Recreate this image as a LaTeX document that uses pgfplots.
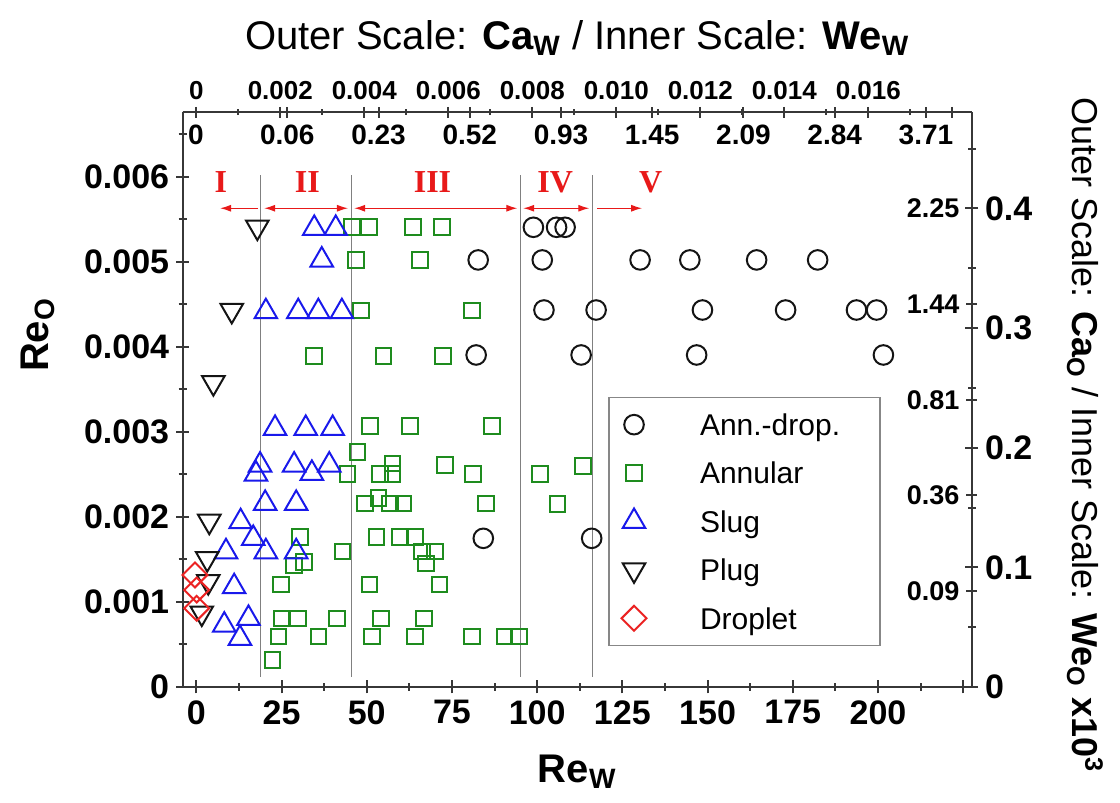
\documentclass[border=0pt]{standalone}
\usepackage{pgfplots}
\pgfplotsset{compat=1.18}
\usepackage{fontspec}
\setmainfont{Liberation Sans}
\newfontfamily\romanfont{Liberation Serif}
\usetikzlibrary{arrows.meta}

\definecolor{axiscol}{RGB}{55,55,55}
\definecolor{anncol}{RGB}{20,20,20}
\definecolor{annularcol}{RGB}{30,140,30}
\definecolor{slugcol}{RGB}{25,25,235}
\definecolor{plugcol}{RGB}{20,20,20}
\definecolor{dropcol}{RGB}{235,35,35}
\definecolor{regioncol}{RGB}{232,25,25}
\definecolor{bordercol}{RGB}{135,135,135}

\pgfplotsset{
  frame/.style={at={(0,0)}, anchor=south west,
    width=394.5pt, height=287.35pt, scale only axis, scaled ticks=false,
    tick style={line width=1pt, axiscol}, tick align=outside},
  plainlines/.style={
    axis line style={line width=1pt, axiscol},
    every outer x axis line/.append style={-},
    every outer y axis line/.append style={-},
    every inner x axis line/.append style={-},
    every inner y axis line/.append style={-}},
}

\begin{document}
\begin{tikzpicture}
% ---- main axis: Re_w vs Re_o with the flow-pattern data ----
\begin{axis}[frame,
  xmin=-4, xmax=227.5, ymin=0, ymax=0.006761,
  axis x line=bottom, axis y line=left, plainlines,
  xtick={0,25,50,75,100,125,150,175,200,225},
  xticklabels={0,25,50,75,100,125,150,175,200,{}},
  minor xtick={12.5,37.5,62.5,87.5,112.5,137.5,162.5,187.5,212.5},
  ytick={0,0.001,0.002,0.003,0.004,0.005,0.006},
  yticklabels={0,0.001,0.002,0.003,0.004,0.005,0.006},
  minor ytick={0.0005,0.0015,0.0025,0.0035,0.0045,0.0055,0.0065},
  major tick length=6.5pt, minor tick length=4pt,
  tick label style={font=\fontsize{17}{20}\selectfont\bfseries},
  clip=false,
  legend cell align=left,
  legend style={at={(0.5394,0.5051)}, anchor=north west,
    draw=bordercol, line width=0.75pt, fill=white,
    inner xsep=0pt, inner ysep=1.5pt, row sep=0pt,
    font=\fontsize{15}{18}\selectfont,
    nodes={draw=none, fill=none, inner sep=0pt, text depth=0pt}},
  legend image code/.code={%
    \draw[mark repeat=2,mark phase=2,#1] plot coordinates {(0pt,0pt) (12.5pt,0pt) (25pt,0pt)};
    \path[draw=none, fill=none] (0pt,-12.1pt) rectangle (45.5pt,12.1pt);},
]
% Annular-droplet
\addplot[only marks, mark=o, mark size=4.9pt, mark options={draw=anncol, line width=1pt}]
coordinates {
(98.9,0.005408) (105.7,0.005408) (108.2,0.005408)
(82.7,0.005024) (101.5,0.005024) (130.2,0.005024) (144.8,0.005024) (164.4,0.005024) (182.3,0.005024)
(102.0,0.004435) (117.3,0.004435) (148.5,0.004435) (172.9,0.004435) (193.7,0.004435) (199.6,0.004435)
(82.1,0.003906) (112.9,0.003906) (146.8,0.003906) (201.6,0.003906)
(84.2,0.001749) (116.0,0.001749)
};
% Annular
\addplot[only marks, mark=square, mark size=3.9pt, mark options={draw=annularcol, line width=1pt}]
coordinates {
(45.6,0.005408) (50.7,0.005408) (63.5,0.005408) (72.0,0.005408)
(46.8,0.005024) (65.6,0.005024)
(48.3,0.004427) (80.8,0.004427)
(34.5,0.003894) (54.9,0.003894) (72.3,0.003894)
(51.0,0.003071) (62.7,0.003071) (86.8,0.003071)
(47.3,0.002768)
(57.6,0.002631) (73.0,0.002612)
(44.4,0.002506) (53.9,0.002506) (57.6,0.002506) (81.1,0.002506) (100.9,0.002506) (113.5,0.002600)
(49.5,0.002161) (53.4,0.002220) (56.8,0.002161) (60.8,0.002161) (85.0,0.002161) (106.0,0.002153)
(30.4,0.001768) (52.9,0.001768) (59.8,0.001768) (64.2,0.001768)
(42.9,0.001592) (66.3,0.001592) (70.0,0.001592)
(28.7,0.001430) (31.6,0.001470) (67.3,0.001455)
(24.8,0.001208) (50.8,0.001208) (71.3,0.001208)
(25.0,0.000808) (29.9,0.000808) (41.2,0.000808) (54.1,0.000808) (66.8,0.000808)
(24.1,0.000592) (35.8,0.000592) (51.5,0.000592) (64.2,0.000592) (80.8,0.000592) (90.4,0.000592) (94.7,0.000592)
(22.4,0.000318)
};
% Slug
\addplot[only marks, mark=triangle, mark size=6.5pt, mark options={draw=slugcol, line width=1pt}]
coordinates {
(34.6,0.005395) (40.9,0.005395)
(36.8,0.005023)
(20.4,0.004415) (29.9,0.004415) (35.8,0.004415) (42.7,0.004415)
(23.1,0.003042) (32.1,0.003042) (40.0,0.003042)
(18.7,0.002611) (28.7,0.002611) (39.0,0.002611)
(17.5,0.002505) (33.9,0.002513)
(20.2,0.002160) (29.3,0.002160)
(13.0,0.001944)
(16.7,0.001748)
(8.7,0.001591) (20.4,0.001591) (29.3,0.001591)
(11.1,0.001180)
(15.3,0.000807)
(8.2,0.000728)
(12.8,0.000572)
};
% Plug
\addplot[only marks, mark=triangle, mark size=6.5pt, mark options={draw=plugcol, line width=1pt, rotate=180}]
coordinates {
(17.9,0.00541) (10.4,0.00443) (5.0,0.00358) (3.8,0.00195) (3.2,0.00151) (3.5,0.00124) (1.6,0.00087)
};
% Droplet
\addplot[only marks, mark=square, mark size=4.4pt, mark options={draw=dropcol, line width=1pt, rotate=45}]
coordinates {
(-0.4,0.001318) (0.1,0.001141) (0.1,0.000926)
};
\legend{Ann.-drop.\hspace{20pt}\mbox{}, Annular, Slug, Plug, Droplet}

% regime boundaries
\addplot[forget plot, gray, line width=0.65pt] coordinates {(18.9,0.000118) (18.9,0.006024)};
\addplot[forget plot, gray, line width=0.65pt] coordinates {(45.6,0.000118) (45.6,0.006024)};
\addplot[forget plot, gray, line width=0.65pt] coordinates {(95.1,0.000118) (95.1,0.006024)};
\addplot[forget plot, gray, line width=0.65pt] coordinates {(116.2,0.000118) (116.2,0.006024)};

% regime extents
\begin{scope}[regioncol, line width=0.6pt, >={Latex[length=5.5pt,width=3.5pt]}]
\draw[->] (axis cs:18.1,0.005632) -- (axis cs:6.96,0.005632);
\draw[<->] (axis cs:19.9,0.005632) -- (axis cs:44.5,0.005632);
\draw[<->] (axis cs:46.3,0.005632) -- (axis cs:94.2,0.005632);
\draw[<->] (axis cs:95.9,0.005632) -- (axis cs:115.3,0.005632);
\draw[->] (axis cs:117.6,0.005632) -- (axis cs:130.8,0.005632);
\end{scope}
\begin{scope}[every node/.style={text=regioncol, font=\romanfont\bfseries\fontsize{16}{19}\selectfont}]
\node at (axis cs:7.2,0.005935) {I};
\node at (axis cs:32.6,0.005935) {II};
\node at (axis cs:69.3,0.005935) {III};
\node at (axis cs:105.3,0.005935) {IV};
\node at (axis cs:133.3,0.005935) {V};
\end{scope}

% axis titles
\node[font=\fontsize{20}{24}\selectfont] at (rel axis cs:0.5,1.1293)
  {Outer Scale: \textbf{Ca\textsubscript{W}} / Inner Scale: \textbf{We\textsubscript{W}}};
\node[rotate=90, font=\fontsize{20}{24}\selectfont\bfseries] at (rel axis cs:-0.1834,0.6125) {Re\textsubscript{O}};
\node[font=\fontsize{20}{24}\selectfont\bfseries] at (rel axis cs:0.5,-0.1479) {Re\textsubscript{W}};
\node[rotate=-90, font=\fontsize{18}{22}\selectfont] at (rel axis cs:1.1436,0.4385)
  {Outer Scale: \textbf{Ca\textsubscript{O}} / Inner Scale: \textbf{We\textsubscript{O} x10\textsuperscript{3}}};
\end{axis}

% ---- top, outer scale: Ca_w ----
\begin{axis}[frame,
  xmin=-0.000324, xmax=0.018462, ymin=0, ymax=1,
  axis x line=top, axis y line=none, plainlines,
  xtick={0,0.002,0.004,0.006,0.008,0.010,0.012,0.014,0.016,0.018},
  xticklabels={0,0.002,0.004,0.006,0.008,0.010,0.012,0.014,0.016,{}},
  minor xtick={0.001,0.003,0.005,0.007,0.009,0.011,0.013,0.015,0.017},
  major tick length=5.3pt, minor tick length=2.8pt,
  xticklabel style={font=\fontsize{13}{15}\selectfont\bfseries},
]
\end{axis}

% ---- top, inner scale: We_w ----
\begin{axis}[frame, at={(0,287.35pt)}, height=20pt,
  xmin=-0.1458, xmax=8.501, ymin=0, ymax=1,
  axis x line=bottom, axis y line=none, plainlines,
  xtick={0,1,2,3,4,5,6,7,8},
  xticklabels={0,0.06,0.23,0.52,0.93,1.45,2.09,2.84,3.71},
  major tick length=5.5pt,
  xticklabel style={font=\fontsize{14}{16}\selectfont\bfseries},
]
\end{axis}

% ---- right, outer scale: Ca_o ----
\begin{axis}[frame,
  xmin=0, xmax=1, ymin=0, ymax=0.4803,
  axis y line=right, axis x line=none, plainlines,
  ytick={0,0.1,0.2,0.3,0.4},
  yticklabels={0,0.1,0.2,0.3,0.4},
  minor ytick={0.05,0.15,0.25,0.35,0.45},
  major tick length=6.3pt, minor tick length=4pt,
  yticklabel style={font=\fontsize{17}{20}\selectfont\bfseries},
]
\end{axis}

% ---- right, inner scale: We_o x10^3 ----
\begin{axis}[frame, at={(394.5pt,0)}, width=20pt,
  xmin=0, xmax=1, ymin=0, ymax=6.002,
  axis y line=left, axis x line=none, plainlines,
  ytick={1,2,3,4,5},
  yticklabels={0.09,0.36,0.81,1.44,2.25},
  major tick length=5.3pt,
  yticklabel style={font=\fontsize{13.5}{16}\selectfont\bfseries},
]
\end{axis}

\pgfresetboundingbox
\path[use as bounding box] (-91.35pt,-58pt) rectangle (468.65pt,343.5pt);
\end{tikzpicture}
\end{document}
